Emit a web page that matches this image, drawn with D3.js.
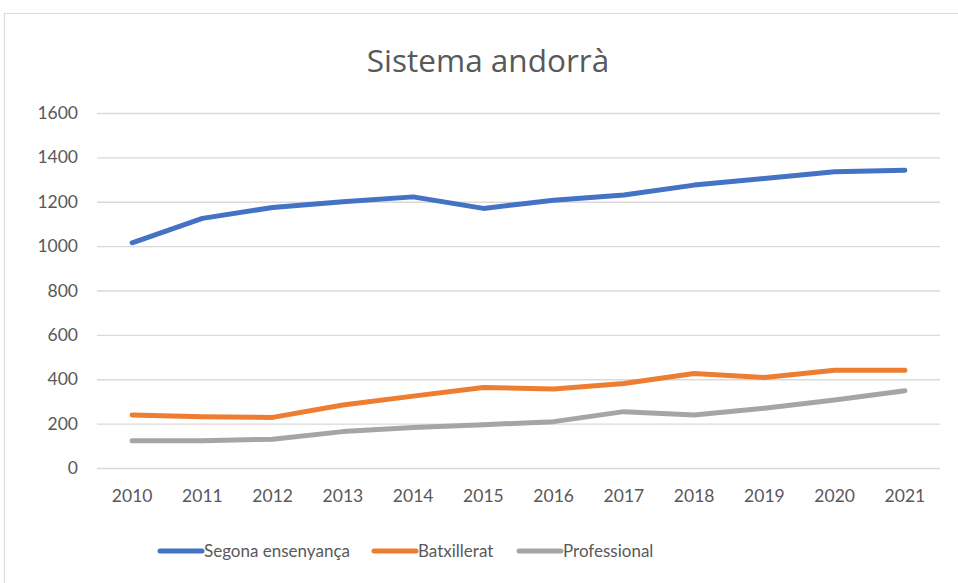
<!DOCTYPE html>
<html>
<head>
<meta charset="utf-8">
<script src="https://cdn.jsdelivr.net/npm/d3@7"></script>
<style>
  body { margin: 0; background: #fff; }
  text { font-family: Lato, "Open Sans", sans-serif; fill: #595959; }
</style>
</head>
<body>
<div id="chart"></div>
<script>
var years = ["2010","2011","2012","2013","2014","2015","2016","2017","2018","2019","2020","2021"];
var segona = [1015, 1125, 1174, 1200, 1222, 1170, 1207, 1230, 1275, 1305, 1335, 1342];
var batxillerat = [239, 231, 228, 284, 324, 363, 356, 381, 426, 408, 441, 441];
var professional = [123, 123, 130, 164, 183, 195, 209, 254, 239, 269, 306, 348];
var seriesNames = ["Segona ensenyança", "Batxillerat", "Professional"];
var yTicks = [0, 200, 400, 600, 800, 1000, 1200, 1400, 1600];

var colors = ["#4472C4", "#ED7D31", "#A5A5A5"];
var series = [segona, batxillerat, professional];

var W = 958, H = 583;
var margin = {top: 113, right: 18, bottom: 115, left: 97};
var width = W - margin.left - margin.right;
var height = H - margin.top - margin.bottom;

var svg = d3.select("#chart")
  .append("svg")
  .attr("width", W)
  .attr("height", H);

// chart border
svg.append("rect")
  .attr("x", 4.5).attr("y", 13.5)
  .attr("width", 965).attr("height", 590)
  .attr("fill", "none")
  .attr("stroke", "#d9d9d9");

svg.append("text")
  .attr("x", 488).attr("y", 72)
  .attr("text-anchor", "middle")
  .style("font-family", "'Open Sans', sans-serif")
  .style("font-size", "31.5px")
  .text("Sistema andorrà");

var g = svg.append("g")
  .attr("transform", "translate(" + margin.left + "," + margin.top + ")");

var x = d3.scaleBand().domain(years).range([0, width]);
var y = d3.scaleLinear().domain([0, 1600]).range([height, 0]);

// gridlines
g.append("g")
  .call(d3.axisLeft(y).tickValues(yTicks).tickSize(-width).tickFormat(""))
  .call(function(s) {
    s.select(".domain").remove();
    s.selectAll("line").attr("stroke", "#d9d9d9").attr("stroke-width", 1.3);
  });

// y labels
g.append("g")
  .call(d3.axisLeft(y).tickValues(yTicks).tickSize(0).tickPadding(19).tickFormat(d3.format("d")))
  .call(function(s) {
    s.select(".domain").remove();
    s.selectAll("text").style("font-size", "17.5px").style("fill", "#595959").style("font-family", "Lato, sans-serif");
  });

// x labels
g.append("g")
  .attr("transform", "translate(0," + height + ")")
  .call(d3.axisBottom(x).tickSize(0).tickPadding(22))
  .call(function(s) {
    s.select(".domain").remove();
    s.selectAll("text").style("font-size", "17.5px").style("fill", "#595959").style("font-family", "Lato, sans-serif");
  });

var line = d3.line()
  .x(function(d, i) { return x(years[i]) + x.bandwidth() / 2; })
  .y(function(d) { return y(d); });

series.forEach(function(s, i) {
  g.append("path")
    .datum(s)
    .attr("d", line)
    .attr("fill", "none")
    .attr("stroke", colors[i])
    .attr("stroke-width", 5)
    .attr("stroke-linecap", "round")
    .attr("stroke-linejoin", "round");
});

// legend
var legendX = [160, 374, 519];
var legend = svg.append("g").attr("transform", "translate(0,551)");
seriesNames.forEach(function(name, i) {
  legend.append("line")
    .attr("x1", legendX[i]).attr("x2", legendX[i] + 42)
    .attr("y1", 0).attr("y2", 0)
    .attr("stroke", colors[i])
    .attr("stroke-width", 5)
    .attr("stroke-linecap", "round");
  legend.append("text")
    .attr("x", legendX[i] + 44).attr("y", 6)
    .style("font-size", "17px")
    .text(name);
});
</script>
</body>
</html>
